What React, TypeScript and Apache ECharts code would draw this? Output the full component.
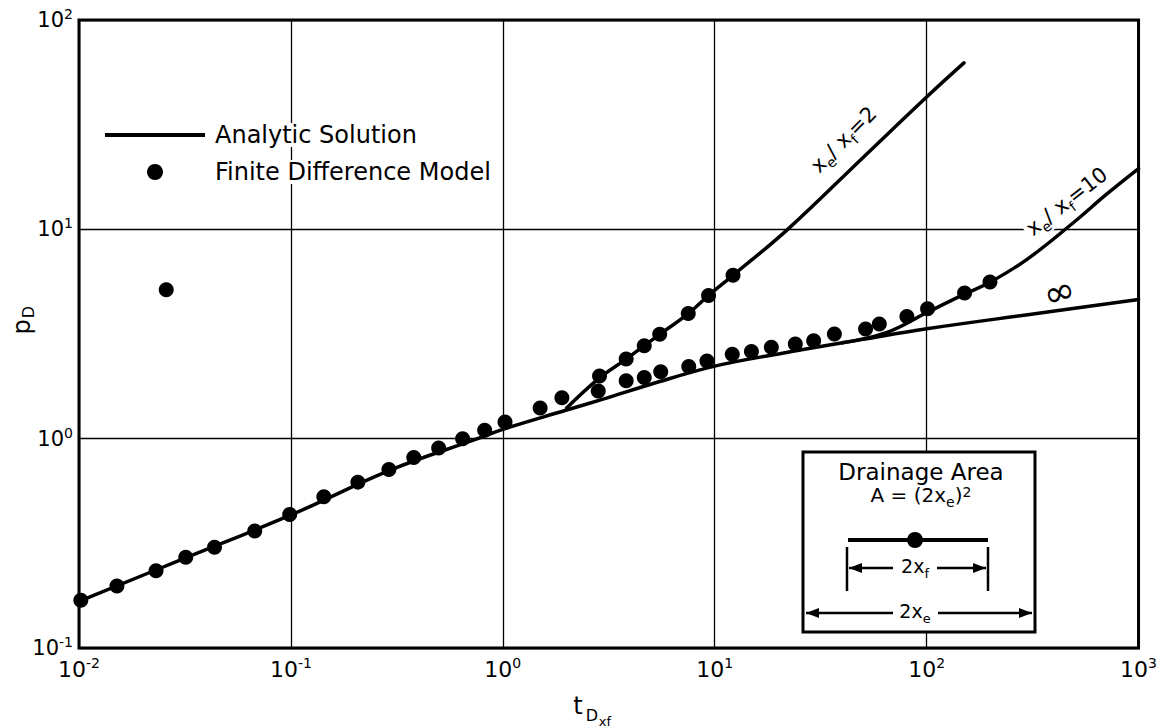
import React, { useEffect, useRef } from 'react';
import * as echarts from 'echarts';

// Axis ticks (powers of ten)
const xTickExps = [-2, -1, 0, 1, 2, 3];
const yTickExps = [-1, 0, 1, 2];

// Analytic solution, infinite reservoir (x_e/x_f = ∞)
const infT = [0.01, 0.03, 0.1, 0.3, 0.76, 1, 2, 3, 5, 10, 20, 50, 100, 300, 1000];
const infP = [0.167, 0.263, 0.432, 0.713, 1.0, 1.108, 1.37, 1.55, 1.82, 2.22, 2.54, 2.98, 3.35, 3.91, 4.62];

// Analytic solution, x_e/x_f = 2
const xe2T = [2.0, 2.86, 3.82, 5.5, 7.5, 9.35, 12.2, 22.1, 50, 100, 150];
const xe2P = [1.4, 1.95, 2.4, 3.15, 3.96, 4.83, 6.03, 10.0, 22, 42.9, 62.4];

// Analytic solution, x_e/x_f = 10
const xe10T = [40, 65, 100, 150, 200, 300, 500, 700, 1000];
const xe10P = [2.87, 3.22, 4.0, 4.89, 5.6, 7.23, 10.9, 14.6, 19.5];

// Finite difference model points
const fdmCommonT = [0.0102, 0.0151, 0.0231, 0.0319, 0.0436, 0.0675, 0.0987, 0.143, 0.207, 0.29, 0.38, 0.498, 0.646, 0.821, 1.024, 1.5, 1.9];
const fdmCommonP = [0.169, 0.198, 0.234, 0.271, 0.303, 0.362, 0.434, 0.528, 0.62, 0.713, 0.812, 0.902, 1.0, 1.096, 1.2, 1.4, 1.57];
const fdmXe2T = [2.86, 3.82, 4.65, 5.5, 7.5, 9.35, 12.2];
const fdmXe2P = [1.99, 2.4, 2.78, 3.15, 3.96, 4.83, 6.03];
const fdmXe10T = [2.82, 3.82, 4.65, 5.56, 7.54, 9.19, 12.1, 14.9, 18.5, 24.0, 29.3, 36.7, 51.5, 59.8, 80.7, 101, 151, 199];
const fdmXe10P = [1.69, 1.89, 1.96, 2.09, 2.21, 2.35, 2.53, 2.61, 2.73, 2.83, 2.94, 3.16, 3.34, 3.53, 3.83, 4.17, 4.96, 5.6];
const fdmOutlierT = [0.0258];
const fdmOutlierP = [5.15];

const FONT = 'DejaVu Sans';

const pairs = (t: number[], p: number[]) => t.map((v, i) => [v, p[i]]);

const supLabel = (exps: number[]) => (v: number) => {
  const e = Math.round(Math.log10(v));
  if (!exps.includes(e)) return '';
  return `{b|10}{s|${e}}`;
};

const tickRich = (size: number) => ({
  b: { fontSize: size, lineHeight: 26, fontFamily: FONT, color: '#000' },
  s: { fontSize: 14, lineHeight: 14, verticalAlign: 'top', fontFamily: FONT, color: '#000' },
});

const subRich = (size: number, sub: number) => ({
  n: { fontSize: size, lineHeight: size + 4, verticalAlign: 'top', fontFamily: FONT, fill: '#000' },
  s: { fontSize: sub, lineHeight: sub, verticalAlign: 'top', padding: [Math.round(size * 0.5), 0, 0, 0], fontFamily: FONT, fill: '#000' },
  p: { fontSize: sub, lineHeight: sub, verticalAlign: 'top', fontFamily: FONT, fill: '#000' },
});

const lineSeries = (t: number[], p: number[]) => ({
  type: 'line',
  name: 'Analytic Solution',
  data: pairs(t, p),
  symbol: 'none',
  smooth: 0.4,
  color: '#000',
  lineStyle: { color: '#000', width: 3.5, cap: 'round' },
  z: 3,
  silent: true,
});

const txt = (x: number, y: number, text: string, size: number, extra: any = {}) => ({
  type: 'text',
  x,
  y,
  z: 101,
  style: {
    text,
    fontSize: size,
    fontFamily: FONT,
    fill: '#000',
    align: 'center',
    verticalAlign: 'middle',
    ...extra,
  },
});

const ln = (x1: number, y1: number, x2: number, y2: number, w: number) => ({
  type: 'line',
  z: 101,
  shape: { x1, y1, x2, y2 },
  style: { stroke: '#000', lineWidth: w },
});

const arrowHead = (x: number, y: number, dir: number) => ({
  type: 'polygon',
  z: 101,
  shape: { points: [[x, y], [x - dir * 13, y - 5], [x - dir * 13, y + 5]] },
  style: { fill: '#000' },
});

export default function App() {
  const ref = useRef<HTMLDivElement>(null);
  useEffect(() => {
    const chart = echarts.init(ref.current!, null, { renderer: 'svg' });
    const option: any = {
      animation: false,
      backgroundColor: '#fff',
      grid: {
        left: 79,
        right: 17,
        top: 20,
        bottom: 79,
        show: true,
        borderColor: '#000',
        borderWidth: 3,
        backgroundColor: 'transparent',
      },
      legend: {
        orient: 'vertical',
        left: 100,
        top: 118,
        itemWidth: 100,
        itemHeight: 16,
        itemGap: 13,
        selectedMode: false,
        data: [
          { name: 'Analytic Solution', icon: 'path://M0,0H100V4H0Z' },
          { name: 'Finite Difference Model', icon: 'circle' },
        ],
        textStyle: {
          fontSize: 24,
          fontFamily: FONT,
          color: '#000',
          backgroundColor: '#fff',
          padding: [0, 2, 0, 5],
        },
      },
      xAxis: {
        type: 'log',
        logBase: 10,
        min: 0.01,
        max: 1000,
        splitNumber: 5,
        axisLine: { show: false },
        axisTick: { show: false },
        minorTick: { show: false },
        splitLine: { show: true, lineStyle: { color: '#000', width: 1.3 } },
        axisLabel: {
          margin: 8,
          showMinLabel: true,
          showMaxLabel: true,
          formatter: supLabel(xTickExps),
          rich: tickRich(22),
        },
      },
      yAxis: {
        type: 'log',
        logBase: 10,
        min: 0.1,
        max: 100,
        splitNumber: 3,
        axisLine: { show: false },
        axisTick: { show: false },
        minorTick: { show: false },
        splitLine: { show: true, lineStyle: { color: '#000', width: 1.3 } },
        axisLabel: {
          margin: 6,
          showMinLabel: true,
          showMaxLabel: true,
          formatter: supLabel(yTickExps),
          rich: tickRich(21),
        },
      },
      series: [
        lineSeries(infT, infP),
        lineSeries(xe2T, xe2P),
        lineSeries(xe10T, xe10P),
        {
          type: 'scatter',
          name: 'Finite Difference Model',
          symbol: 'circle',
          symbolSize: 15,
          color: '#000',
          itemStyle: { color: '#000', opacity: 1 },
          clip: false,
          z: 4,
          silent: true,
          data: [
            ...pairs(fdmCommonT, fdmCommonP),
            ...pairs(fdmXe2T, fdmXe2P),
            ...pairs(fdmXe10T, fdmXe10P),
            ...pairs(fdmOutlierT, fdmOutlierP),
          ],
        },
      ],
      graphic: [
        // axis names
        txt(578, 706, 't', 24),
        txt(592, 715, 'D', 16),
        txt(605, 721, 'xf', 13),
        {
          type: 'group',
          x: 22,
          y: 321,
          rotation: Math.PI / 2,
          children: [
            txt(-6, 0, 'p', 24),
            txt(9, 6, 'D', 16),
          ],
        },
        // curve annotations
        {
          type: 'text',
          x: 845,
          y: 141,
          rotation: Math.PI / 4,
          z: 101,
          style: {
            text: '{n|x}{s|e}{n|/ x}{s|f}{n|=2}',
            rich: subRich(21, 14),
            align: 'center',
            verticalAlign: 'middle',
            fill: '#000',
          },
        },
        {
          type: 'text',
          x: 1068,
          y: 203,
          rotation: 0.66,
          z: 101,
          style: {
            text: '{n|x}{s|e}{n|/ x}{s|f}{n|=10}',
            rich: subRich(21, 14),
            align: 'center',
            verticalAlign: 'middle',
            fill: '#000',
            backgroundColor: '#fff',
            padding: [0, 3],
          },
        },
        {
          type: 'text',
          x: 1059,
          y: 292,
          rotation: 0.3,
          z: 101,
          style: {
            text: '∞',
            fontSize: 38,
            fontFamily: FONT,
            fill: '#000',
            align: 'center',
            verticalAlign: 'middle',
          },
        },
        // drainage area inset
        {
          type: 'rect',
          z: 100,
          shape: { x: 803, y: 452, width: 232, height: 180 },
          style: { fill: '#fff', stroke: '#000', lineWidth: 3 },
        },
        txt(921, 472, 'Drainage Area', 23),
        {
          type: 'text',
          x: 921,
          y: 497,
          z: 101,
          style: {
            text: '{n|A = (2x}{s|e}{n|)}{p|2}',
            rich: subRich(20, 14),
            align: 'center',
            verticalAlign: 'middle',
            fill: '#000',
          },
        },
        ln(848, 540, 988, 540, 4),
        {
          type: 'circle',
          z: 102,
          shape: { cx: 915, cy: 540, r: 8 },
          style: { fill: '#000' },
        },
        ln(847, 547, 847, 591, 2.5),
        ln(988, 547, 988, 591, 2.5),
        ln(849, 568, 893, 568, 2.5),
        ln(937, 568, 986, 568, 2.5),
        arrowHead(849, 568, -1),
        arrowHead(986, 568, 1),
        {
          type: 'text',
          x: 915,
          y: 568,
          z: 101,
          style: {
            text: '{n|2x}{s|f}',
            rich: subRich(19, 13),
            align: 'center',
            verticalAlign: 'middle',
            fill: '#000',
          },
        },
        ln(806, 613, 893, 613, 2.5),
        ln(938, 613, 1032, 613, 2.5),
        arrowHead(806, 613, -1),
        arrowHead(1032, 613, 1),
        {
          type: 'text',
          x: 915,
          y: 613,
          z: 101,
          style: {
            text: '{n|2x}{s|e}',
            rich: subRich(19, 13),
            align: 'center',
            verticalAlign: 'middle',
            fill: '#000',
          },
        },
      ],
    };
    chart.setOption(option);
    return () => chart.dispose();
  }, []);
  return (
    <div
      ref={ref}
      style={{ position: 'absolute', left: 0, top: 0, width: 1160, height: 727, background: '#fff' }}
    />
  );
}
